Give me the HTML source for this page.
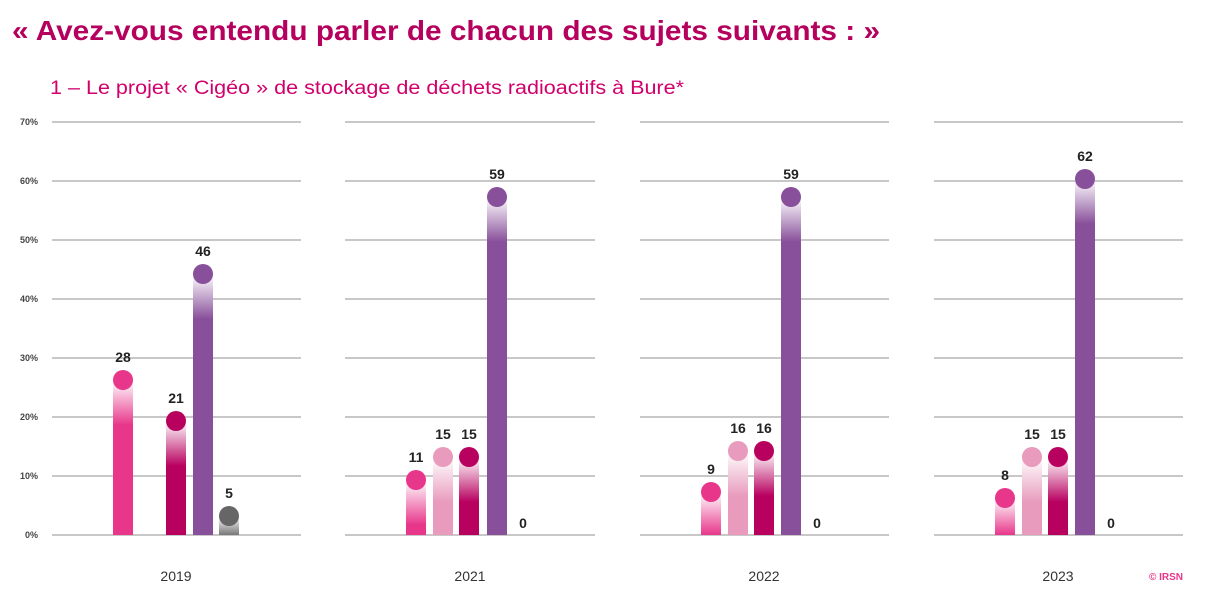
<!DOCTYPE html>
<html><head><meta charset="utf-8"><style>
html,body{margin:0;padding:0;background:#fff;}
svg{display:block;font-family:"Liberation Sans",sans-serif;}
</style></head><body>
<svg width="1210" height="606" viewBox="0 0 1210 606" xmlns="http://www.w3.org/2000/svg">
<defs>
<linearGradient id="g1" gradientUnits="userSpaceOnUse" x1="0" y1="380" x2="0" y2="425"><stop offset="0" stop-color="#fff"/><stop offset="1" stop-color="#e8368a"/></linearGradient>
<linearGradient id="g2" gradientUnits="userSpaceOnUse" x1="0" y1="421" x2="0" y2="466"><stop offset="0" stop-color="#fff"/><stop offset="1" stop-color="#b8005f"/></linearGradient>
<linearGradient id="g3" gradientUnits="userSpaceOnUse" x1="0" y1="274" x2="0" y2="319"><stop offset="0" stop-color="#fff"/><stop offset="1" stop-color="#884f9a"/></linearGradient>
<linearGradient id="g4" gradientUnits="userSpaceOnUse" x1="0" y1="516" x2="0" y2="535"><stop offset="0" stop-color="#fff"/><stop offset="1" stop-color="#777"/></linearGradient>
<linearGradient id="g5" gradientUnits="userSpaceOnUse" x1="0" y1="480" x2="0" y2="525"><stop offset="0" stop-color="#fff"/><stop offset="1" stop-color="#e8368a"/></linearGradient>
<linearGradient id="g6" gradientUnits="userSpaceOnUse" x1="0" y1="457" x2="0" y2="502"><stop offset="0" stop-color="#fff"/><stop offset="1" stop-color="#e89bbd"/></linearGradient>
<linearGradient id="g7" gradientUnits="userSpaceOnUse" x1="0" y1="457" x2="0" y2="502"><stop offset="0" stop-color="#fff"/><stop offset="1" stop-color="#b8005f"/></linearGradient>
<linearGradient id="g8" gradientUnits="userSpaceOnUse" x1="0" y1="197" x2="0" y2="242"><stop offset="0" stop-color="#fff"/><stop offset="1" stop-color="#884f9a"/></linearGradient>
<linearGradient id="g9" gradientUnits="userSpaceOnUse" x1="0" y1="492" x2="0" y2="535"><stop offset="0" stop-color="#fff"/><stop offset="1" stop-color="#e8368a"/></linearGradient>
<linearGradient id="g10" gradientUnits="userSpaceOnUse" x1="0" y1="451" x2="0" y2="496"><stop offset="0" stop-color="#fff"/><stop offset="1" stop-color="#e89bbd"/></linearGradient>
<linearGradient id="g11" gradientUnits="userSpaceOnUse" x1="0" y1="451" x2="0" y2="496"><stop offset="0" stop-color="#fff"/><stop offset="1" stop-color="#b8005f"/></linearGradient>
<linearGradient id="g13" gradientUnits="userSpaceOnUse" x1="0" y1="498" x2="0" y2="535"><stop offset="0" stop-color="#fff"/><stop offset="1" stop-color="#e8368a"/></linearGradient>
<linearGradient id="g16" gradientUnits="userSpaceOnUse" x1="0" y1="179" x2="0" y2="224"><stop offset="0" stop-color="#fff"/><stop offset="1" stop-color="#884f9a"/></linearGradient>
</defs>

<text x="12" y="40" font-size="28" font-weight="bold" fill="#b5005e" textLength="868" lengthAdjust="spacingAndGlyphs">« Avez-vous entendu parler de chacun des sujets suivants : »</text>
<text x="50" y="94" font-size="19" fill="#d1006c" textLength="634" lengthAdjust="spacingAndGlyphs">1 – Le projet «  Cigéo » de stockage de déchets radioactifs à Bure*</text>

<g stroke="#c8c8c8" stroke-width="2">
<line x1="52" x2="301" y1="122" y2="122"/><line x1="52" x2="301" y1="181" y2="181"/><line x1="52" x2="301" y1="240" y2="240"/><line x1="52" x2="301" y1="299" y2="299"/><line x1="52" x2="301" y1="358" y2="358"/><line x1="52" x2="301" y1="417" y2="417"/><line x1="52" x2="301" y1="476" y2="476"/><line x1="52" x2="301" y1="535" y2="535"/>
<line x1="345" x2="595" y1="122" y2="122"/><line x1="345" x2="595" y1="181" y2="181"/><line x1="345" x2="595" y1="240" y2="240"/><line x1="345" x2="595" y1="299" y2="299"/><line x1="345" x2="595" y1="358" y2="358"/><line x1="345" x2="595" y1="417" y2="417"/><line x1="345" x2="595" y1="476" y2="476"/><line x1="345" x2="595" y1="535" y2="535"/>
<line x1="640" x2="889" y1="122" y2="122"/><line x1="640" x2="889" y1="181" y2="181"/><line x1="640" x2="889" y1="240" y2="240"/><line x1="640" x2="889" y1="299" y2="299"/><line x1="640" x2="889" y1="358" y2="358"/><line x1="640" x2="889" y1="417" y2="417"/><line x1="640" x2="889" y1="476" y2="476"/><line x1="640" x2="889" y1="535" y2="535"/>
<line x1="934" x2="1183" y1="122" y2="122"/><line x1="934" x2="1183" y1="181" y2="181"/><line x1="934" x2="1183" y1="240" y2="240"/><line x1="934" x2="1183" y1="299" y2="299"/><line x1="934" x2="1183" y1="358" y2="358"/><line x1="934" x2="1183" y1="417" y2="417"/><line x1="934" x2="1183" y1="476" y2="476"/><line x1="934" x2="1183" y1="535" y2="535"/>
</g>

<g font-size="9" font-weight="bold" fill="#444" text-anchor="end">
<text x="38" y="125">70%</text><text x="38" y="184">60%</text><text x="38" y="243">50%</text><text x="38" y="302">40%</text><text x="38" y="361">30%</text><text x="38" y="420">20%</text><text x="38" y="479">10%</text><text x="38" y="538">0%</text>
</g>

<!-- bars -->
<rect x="113" y="380" width="20" height="155" fill="url(#g1)"/><circle cx="123" cy="380" r="10" fill="#e8368a"/>
<rect x="166" y="421" width="20" height="114" fill="url(#g2)"/><circle cx="176" cy="421" r="10" fill="#b8005f"/>
<rect x="193" y="274" width="20" height="261" fill="url(#g3)"/><circle cx="203" cy="274" r="10" fill="#884f9a"/>
<rect x="219" y="516" width="20" height="19" fill="url(#g4)"/><circle cx="229" cy="516" r="10" fill="#666"/>

<rect x="406" y="480" width="20" height="55" fill="url(#g5)"/><circle cx="416" cy="480" r="10" fill="#e8368a"/>
<rect x="433" y="457" width="20" height="78" fill="url(#g6)"/><circle cx="443" cy="457" r="10" fill="#e89bbd"/>
<rect x="459" y="457" width="20" height="78" fill="url(#g7)"/><circle cx="469" cy="457" r="10" fill="#b8005f"/>
<rect x="487" y="197" width="20" height="338" fill="url(#g8)"/><circle cx="497" cy="197" r="10" fill="#884f9a"/>

<rect x="701" y="492" width="20" height="43" fill="url(#g9)"/><circle cx="711" cy="492" r="10" fill="#e8368a"/>
<rect x="728" y="451" width="20" height="84" fill="url(#g10)"/><circle cx="738" cy="451" r="10" fill="#e89bbd"/>
<rect x="754" y="451" width="20" height="84" fill="url(#g11)"/><circle cx="764" cy="451" r="10" fill="#b8005f"/>
<rect x="781" y="197" width="20" height="338" fill="url(#g8)"/><circle cx="791" cy="197" r="10" fill="#884f9a"/>

<rect x="995" y="498" width="20" height="37" fill="url(#g13)"/><circle cx="1005" cy="498" r="10" fill="#e8368a"/>
<rect x="1022" y="457" width="20" height="78" fill="url(#g6)"/><circle cx="1032" cy="457" r="10" fill="#e89bbd"/>
<rect x="1048" y="457" width="20" height="78" fill="url(#g7)"/><circle cx="1058" cy="457" r="10" fill="#b8005f"/>
<rect x="1075" y="179" width="20" height="356" fill="url(#g16)"/><circle cx="1085" cy="179" r="10" fill="#884f9a"/>

<g font-size="14" font-weight="bold" fill="#222" text-anchor="middle">
<text x="123" y="362">28</text><text x="176" y="403">21</text><text x="203" y="256">46</text><text x="229" y="498">5</text>
<text x="416" y="462">11</text><text x="443" y="439">15</text><text x="469" y="439">15</text><text x="497" y="179">59</text><text x="523" y="528">0</text>
<text x="711" y="474">9</text><text x="738" y="433">16</text><text x="764" y="433">16</text><text x="791" y="179">59</text><text x="817" y="528">0</text>
<text x="1005" y="480">8</text><text x="1032" y="439">15</text><text x="1058" y="439">15</text><text x="1085" y="161">62</text><text x="1111" y="528">0</text>
</g>

<g font-size="14" fill="#333" text-anchor="middle">
<text x="176" y="581">2019</text><text x="470" y="581">2021</text><text x="764" y="581">2022</text><text x="1058" y="581">2023</text>
</g>
<text x="1183" y="580" font-size="10" font-weight="bold" fill="#e8368a" text-anchor="end">© IRSN</text>
</svg>
</body></html>
